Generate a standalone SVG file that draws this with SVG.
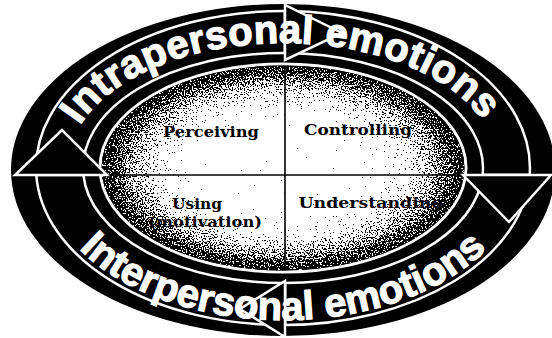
<svg xmlns="http://www.w3.org/2000/svg" width="552" height="338" viewBox="0 0 552 338">
<style>
.shaft{fill:#000;stroke:#fff;stroke-width:2.5;stroke-linejoin:miter}
.head{fill:#000;stroke:#fff;stroke-width:2.5;stroke-linejoin:miter}
.band{font-family:"Liberation Sans",Arial,sans-serif;font-weight:bold;font-size:40px;fill:#fff;stroke:#fff;stroke-width:1.2}
.lbl{font-family:"DejaVu Serif","Liberation Serif",serif;font-weight:bold;font-size:14px;fill:#000;text-anchor:middle}
.div{stroke:#000;stroke-width:1.6;fill:none}
</style>
<defs>
<radialGradient id="shade" cx="0.5" cy="0.5" r="0.5">
<stop offset="0" stop-color="#fff"/>
<stop offset="0.45" stop-color="#fff"/>
<stop offset="0.7" stop-color="#c8c8c8"/>
<stop offset="0.88" stop-color="#7a7a7a"/>
<stop offset="1" stop-color="#444"/>
</radialGradient>
<filter id="speck" x="0" y="0" width="1" height="1" color-interpolation-filters="sRGB">
<feTurbulence type="fractalNoise" baseFrequency="0.75" numOctaves="2" seed="7" result="noise"/>
<feColorMatrix in="noise" type="matrix" values="1 0 0 0 0 1 0 0 0 0 1 0 0 0 0 0 0 0 0 1" result="gn"/>
<feComposite in="SourceGraphic" in2="gn" operator="arithmetic" k1="0" k2="1" k3="1.6" k4="-0.8" result="sum"/>
<feComponentTransfer in="sum" result="th">
<feFuncR type="discrete" tableValues="0 1"/>
<feFuncG type="discrete" tableValues="0 1"/>
<feFuncB type="discrete" tableValues="0 1"/>
</feComponentTransfer>
<feComposite in="th" in2="SourceAlpha" operator="in"/>
</filter>
<path id="topArc" d="M67,168 A216,125 0 0 1 499,168"/>
<path id="botArc" d="M42,168 A241,152 0 0 0 524,168"/>
</defs>
<rect width="552" height="338" fill="#fff"/>
<g id="ring">
<ellipse cx="283" cy="170" rx="272" ry="166" fill="#000"/>
<ellipse cx="283" cy="168" rx="183" ry="104" fill="none" stroke="#fff" stroke-width="3"/>
<ellipse cx="283" cy="168" rx="181.5" ry="102.5" fill="url(#shade)" filter="url(#speck)"/>
<line class="div" x1="285" y1="66" x2="285" y2="270"/>
<line class="div" x1="101" y1="175" x2="465" y2="175"/>
</g>
<g id="connectors">
<path class="shaft" d="M36.3,175 A247,157 0 0 1 285,11 L285,53 A200,115 0 0 0 83.4,175 Z"/>
<path class="shaft" d="M285,11 A247,157 0 0 1 529.7,175 L482.6,175 A200,115 0 0 0 285,53 Z"/>
<path class="shaft" d="M529.7,175 A247,157 0 0 1 285,325 L285,283 A200,115 0 0 0 482.6,175 Z"/>
<path class="shaft" d="M285,325 A247,157 0 0 1 36.3,175 L83.4,175 A200,115 0 0 0 285,283 Z"/>
<polygon class="head" points="15,175 107,175 62,130"/>
<polygon class="head" points="285,5 285,60 342,33"/>
<polygon class="head" points="463,175 551,175 509,222"/>
<polygon class="head" points="285,337 285,281 240,309"/>
</g>
<g id="band-labels">
<text class="band" letter-spacing="0.3"><textPath href="#topArc" startOffset="45">Intrapersonal emotions</textPath></text>
<text class="band" letter-spacing="0"><textPath href="#botArc" startOffset="91">Interpersonal emotions</textPath></text>
</g>
<g id="node-perceiving"><text class="lbl" x="211" y="137" textLength="96" lengthAdjust="spacingAndGlyphs">Perceiving</text></g>
<g id="node-controlling"><text class="lbl" x="358" y="135" textLength="108" lengthAdjust="spacingAndGlyphs">Controlling</text></g>
<g id="node-using"><text class="lbl" x="197" y="209" textLength="50" lengthAdjust="spacingAndGlyphs">Using</text><text class="lbl" x="205" y="227" textLength="114" lengthAdjust="spacingAndGlyphs">(motivation)</text></g>
<g id="node-understanding"><text class="lbl" x="371" y="208" textLength="145" lengthAdjust="spacingAndGlyphs">Understanding</text></g>
</svg>
